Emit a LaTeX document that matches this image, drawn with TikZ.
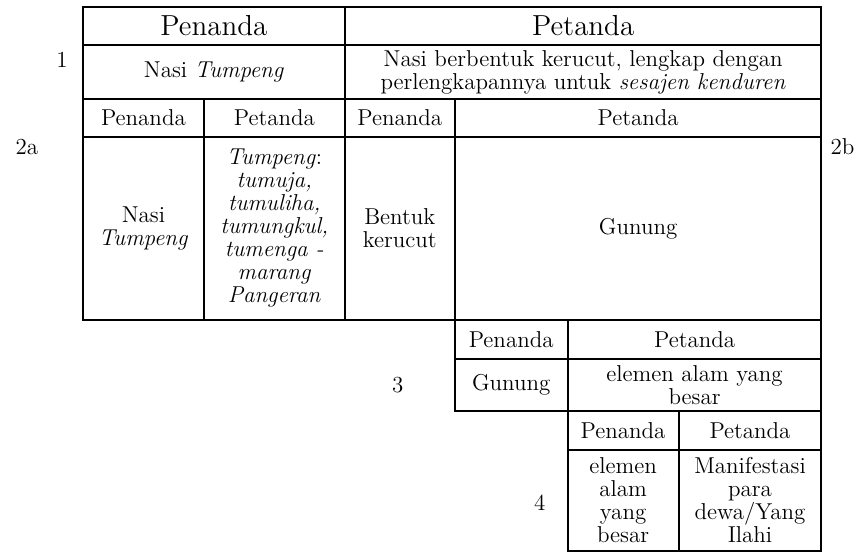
\documentclass[tikz,border=0pt]{standalone}

\begin{document}
\begin{tikzpicture}[x=0.5pt, y=-0.5pt,
    cell/.style={draw, line width=1pt, anchor=north west, inner sep=1pt, align=center,
                 font=\fontsize{11.5}{11.5}\selectfont},
    big/.style={font=\fontsize{14.5}{14.5}\selectfont},
    sz/.style 2 args={minimum width=#1*0.5pt, minimum height=#2*0.5pt},
    lbl/.style={font=\fontsize{11.5}{11.5}\selectfont}]
    % page
    \fill[white] (0,0) rectangle (861,552);

    % level 1
    \node[cell, big, sz={262}{38}] (hpen) at (82,6) {Penanda};
    \node[cell, big, sz={477}{38}] (hpet) at (344,6) {Petanda};
    \node[cell, sz={262}{54}] (nasi) at (82,44) {Nasi \textit{Tumpeng}};
    \node[cell, sz={477}{54}] (kerucut) at (344,44)
        {Nasi berbentuk kerucut, lengkap dengan\\perlengkapannya untuk \textit{sesajen kenduren}};

    % level 2a
    \node[cell, sz={121}{38}] (pen2a) at (82,98) {Penanda};
    \node[cell, sz={141}{38}] (pet2a) at (203,98) {Petanda};
    \node[cell, sz={121}{183}] (nasi2a) at (82,136) {Nasi\\\textit{Tumpeng}};
    \node[cell, sz={141}{183}] (tumpeng2a) at (203,136)
        {\textit{Tumpeng}:\\\textit{tumuja,}\\\textit{tumuliha,}\\\textit{tumungkul,}\\\textit{tumenga -}\\\textit{marang}\\\textit{Pangeran}};

    % level 2b
    \node[cell, sz={110}{38}] (pen2b) at (344,98) {Penanda};
    \node[cell, sz={367}{38}] (pet2b) at (454,98) {Petanda};
    \node[cell, sz={110}{183}] (bentuk2b) at (344,136) {Bentuk\\kerucut};
    \node[cell, sz={367}{183}] (gunung2b) at (454,136) {Gunung};

    % level 3
    \node[cell, sz={113}{39}] (pen3) at (454,319) {Penanda};
    \node[cell, sz={254}{39}] (pet3) at (567,319) {Petanda};
    \node[cell, sz={113}{52}] (gunung3) at (454,358) {Gunung};
    \node[cell, sz={254}{52}] (elemen3) at (567,358) {elemen alam yang\\besar};

    % level 4
    \node[cell, sz={111}{39}] (pen4) at (567,410) {Penanda};
    \node[cell, sz={143}{39}] (pet4) at (678,410) {Petanda};
    \node[cell, sz={111}{101}] (elemen4) at (567,449) {elemen\\alam\\yang\\besar};
    \node[cell, sz={143}{101}] (dewa4) at (678,449) {Manifestasi\\para\\dewa/Yang\\Ilahi};

    % level numbers
    \node[lbl] (lvl1) at (62,60) {1};
    \node[lbl] (lvl2a) at (27,147) {2a};
    \node[lbl] (lvl2b) at (843,147) {2b};
    \node[lbl] (lvl3) at (398,385) {3};
    \node[lbl] (lvl4) at (540,503) {4};
\end{tikzpicture}
\end{document}
